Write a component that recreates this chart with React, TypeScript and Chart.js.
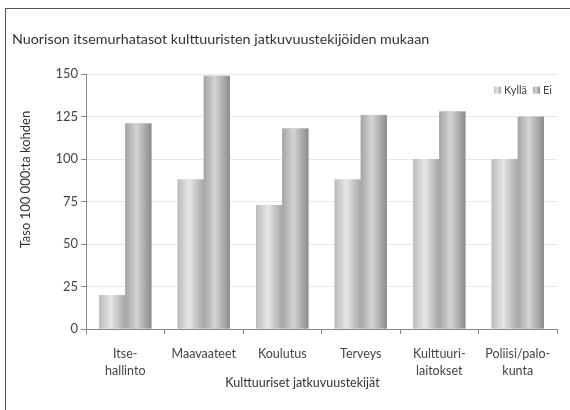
import React, { useEffect, useRef } from "react";
import { Chart, registerables } from "chart.js";

Chart.register(...registerables);

const chartTitle = "Nuorison itsemurhatasot kulttuuristen jatkuvuustekijöiden mukaan";
const categories: string[][] = [
  ["Itse-", "hallinto"],
  ["Maavaateet"],
  ["Koulutus"],
  ["Terveys"],
  ["Kulttuuri-", "laitokset"],
  ["Poliisi/palo-", "kunta"],
];
const seriesNames = ["Kyllä", "Ei"];
const kyllaValues = [20, 88, 73, 88, 100, 100];
const eiValues = [121, 149, 118, 126, 128, 125];
const yTickValues = [0, 25, 50, 75, 100, 125, 150];
const yAxisTitle = "Taso 100 000:ta kohden";
const xAxisTitle = "Kulttuuriset jatkuvuustekijät";

const FONT = "Lato, 'Open Sans', sans-serif";

const KYLLA_STOPS: [number, string][] = [
  [0, "#bcbcbc"],
  [0.45, "#e6e6e6"],
  [1, "#a6a6a6"],
];
const EI_STOPS: [number, string][] = [
  [0, "#a4a4a4"],
  [0.42, "#d4d4d4"],
  [1, "#8c8c8c"],
];

function fillGradientRect(ctx: CanvasRenderingContext2D, stops: [number, string][], left: number, top: number, w: number, h: number) {
  const g = ctx.createLinearGradient(left, 0, left + w, 0);
  stops.forEach(([o, c]) => g.addColorStop(o, c));
  ctx.fillStyle = g;
  ctx.fillRect(left, top, w, h);
}

const gradientBars = {
  id: "gradientBars",
  afterDatasetsDraw(chart: any) {
    const ctx = chart.ctx;
    ctx.save();
    chart.data.datasets.forEach((_ds: any, di: number) => {
      const meta = chart.getDatasetMeta(di);
      const stops = di === 0 ? KYLLA_STOPS : EI_STOPS;
      meta.data.forEach((el: any) => {
        const left = el.x - el.width / 2;
        const top = Math.min(el.y, el.base);
        fillGradientRect(ctx, stops, left, top, el.width, Math.abs(el.base - el.y));
      });
    });
    ctx.restore();
  },
};

const extras = {
  id: "extras",
  afterDraw(chart: any) {
    const ctx: CanvasRenderingContext2D = chart.ctx;
    const area = chart.chartArea;
    ctx.save();
    // axis titles
    ctx.fillStyle = "#333";
    ctx.textAlign = "center";
    ctx.textBaseline = "middle";
    ctx.font = `12.5px ${FONT}`;
    ctx.fillText(xAxisTitle, (area.left + area.right) / 2 - 19, area.bottom + 54);
    ctx.save();
    ctx.translate(26, (area.top + area.bottom) / 2 - 22);
    ctx.rotate(-Math.PI / 2);
    ctx.font = `13px ${FONT}`;
    ctx.fillText(yAxisTitle, 0, 0);
    ctx.restore();

    // legend
    ctx.font = `11px ${FONT}`;
    ctx.textAlign = "left";
    const box = 7;
    const gapText = 3;
    const gapItem = 6;
    const widths = chart.data.datasets.map((d: any) => ctx.measureText(d.label).width);
    let total = 0;
    widths.forEach((w: number, i: number) => {
      total += box + gapText + w + (i < widths.length - 1 ? gapItem : 0);
    });
    let x = area.right - 5 - total;
    const cy = area.top + 16;
    chart.data.datasets.forEach((d: any, i: number) => {
      fillGradientRect(ctx, i === 0 ? KYLLA_STOPS : EI_STOPS, x, cy - box / 2, box, box);
      x += box + gapText;
      ctx.fillStyle = "#444";
      ctx.fillText(d.label, x, cy);
      x += widths[i] + gapItem;
    });
    ctx.restore();
  },
};

export default function App() {
  const canvasRef = useRef<HTMLCanvasElement | null>(null);

  useEffect(() => {
    const canvas = canvasRef.current;
    if (!canvas) return;
    const chart = new Chart(canvas, {
      type: "bar",
      data: {
        labels: categories,
        datasets: [
          {
            label: seriesNames[0],
            data: kyllaValues,
            backgroundColor: "#cfcfcf",
            borderWidth: 0,
          },
          {
            label: seriesNames[1],
            data: eiValues,
            backgroundColor: "#b4b4b4",
            borderWidth: 0,
          },
        ],
      },
      plugins: [gradientBars, extras],
      options: {
        animation: false,
        responsive: false,
        events: [],
        layout: { padding: { left: 12, right: 13, top: 0, bottom: 0 } },
        datasets: {
          bar: { categoryPercentage: 0.667, barPercentage: 1 },
        },
        plugins: {
          title: {
            display: true,
            text: chartTitle,
            align: "start",
            color: "#333",
            font: { family: FONT, size: 14.3, weight: "normal" },
            padding: { top: 31, bottom: 26 },
          },
          legend: { display: false },
          tooltip: { enabled: false },
        },
        scales: {
          x: {
            grid: {
              drawOnChartArea: false,
              color: "#888",
              tickLength: 5,
            },
            border: { color: "#888", width: 1 },
            ticks: {
              color: "#444",
              font: { family: FONT, size: 12.5, lineHeight: 1.4 },
              padding: 11,
              maxRotation: 0,
              autoSkip: false,
            },
            afterFit: (s: any) => {
              s.height = 81;
            },
          },
          y: {
            min: yTickValues[0],
            max: yTickValues[yTickValues.length - 1],
            afterBuildTicks: (s: any) => {
              s.ticks = yTickValues.map((v) => ({ value: v }));
            },
            grid: {
              color: "#e8e8e8",
              tickColor: "#888",
              tickLength: 5,
            },
            border: { color: "#888", width: 1 },
            ticks: {
              color: "#444",
              font: { family: FONT, size: 13 },
              padding: 3,
            },
            afterFit: (s: any) => {
              s.width = 74;
            },
          },
        },
      },
    });
    return () => chart.destroy();
  }, []);

  return (
    <div
      style={{
        position: "fixed",
        left: 0,
        top: 0,
        width: 570,
        height: 410,
        overflow: "hidden",
        background: "#fff",
      }}
    >
      <div
        style={{
          position: "absolute",
          left: 5,
          top: 8,
          width: 700,
          height: 600,
          borderLeft: "1px solid #555",
          borderTop: "1px solid #555",
        }}
      />
      <canvas
        ref={canvasRef}
        width={570}
        height={410}
        style={{ position: "absolute", left: 0, top: 0, width: 570, height: 410 }}
      />
    </div>
  );
}
